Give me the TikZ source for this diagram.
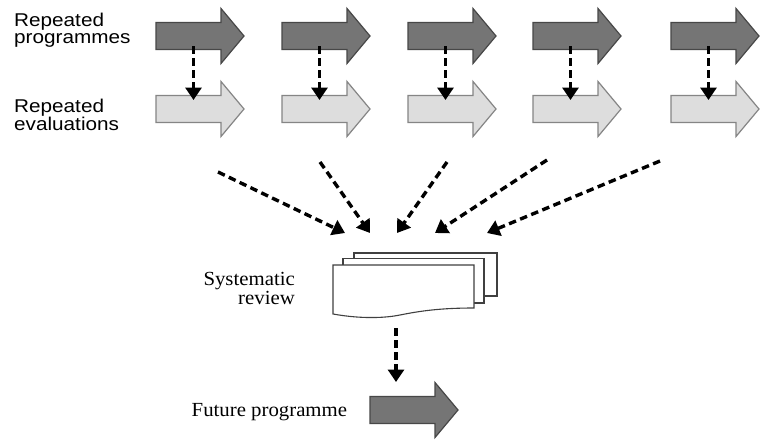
\documentclass[tikz,border=0pt]{standalone}
\usepackage{fontspec}
\usetikzlibrary{arrows.meta}
\newfontfamily\labsans[FakeStretch=1.12]{Liberation Sans}
\newfontfamily\labserif[FakeStretch=1.04]{Liberation Serif}
\definecolor{darkfill}{HTML}{757575}
\definecolor{darkline}{HTML}{474747}
\definecolor{lightfill}{HTML}{DDDDDD}
\definecolor{lightline}{HTML}{858585}
\definecolor{docline}{HTML}{404040}
\begin{document}
\begin{tikzpicture}[x=1pt,y=-1pt,
  darkarrow/.style={fill=darkfill,draw=darkline,line width=1.2pt},
  lightarrow/.style={fill=lightfill,draw=lightline,line width=1.2pt},
  doc/.style={fill=white,draw=docline,line width=1.1pt},
  flow/.style={draw=black,line width=3.4pt,dash pattern=on 7.5pt off 4.5pt,-{Triangle[width=16pt,length=12.5pt]}},
  sanslabel/.style={font=\labsans\fontsize{18.5}{17.2}\selectfont,align=left,inner sep=0pt,anchor=north west},
  seriflabel/.style={font=\labserif\fontsize{20}{15.8}\selectfont,inner sep=0pt},
  pics/bigarrow/.style={code={\path[#1] (0,-13.5) -- (65,-13.5) -- (65,-27.5) -- (88,0) -- (65,27.5) -- (65,13.5) -- (0,13.5) -- cycle;}}
]
\useasboundingbox (0,0) rectangle (760,439);
\fill[white] (0,0) rectangle (760,439);

% labels
\node[sanslabel] (lprog) at (14,13) {Repeated\\programmes};
\node[sanslabel] (leval) at (14,99) {Repeated\\evaluations};
\node[seriflabel,align=right,anchor=north east] (lrev) at (295,272) {Systematic\\review};
\node[seriflabel,anchor=base west] (lfut) at (191.5,416) {Future programme};

% repeated programmes and evaluations
\foreach \i/\x in {1/156,2/282,3/408,4/533,5/671} {
  \pic at (\x,36) {bigarrow=darkarrow};
  \pic at (\x,109) {bigarrow=lightarrow};
  \coordinate (s\i) at (\x+37.5,46);
  \coordinate (t\i) at (\x+37.5,100);
  \draw[flow] (s\i) -- (t\i);
}

% converging arrows
\coordinate (c1s) at (218,172); \coordinate (c1t) at (345,233);
\coordinate (c2s) at (320,162); \coordinate (c2t) at (370,233);
\coordinate (c3s) at (447,162); \coordinate (c3t) at (397,233);
\coordinate (c4s) at (547,160); \coordinate (c4t) at (435,233);
\coordinate (c5s) at (660,161); \coordinate (c5t) at (487,233);
\foreach \j in {1,...,5} { \draw[flow] (c\j s) -- (c\j t); }

% document stack
\draw[doc] (354,253) rectangle (497,296);
\draw[doc] (343,258.5) rectangle (484,303);
\draw[doc] (333,265) -- (474,265) -- (474,308)
  .. controls (440,308) and (420,311) .. (400,315)
  .. controls (380,319) and (355,318) .. (333,314) -- cycle;
\coordinate (rv) at (396,328);

% future programme
\pic at (370,410) {bigarrow=darkarrow};
\coordinate (fut) at (396,382);
\draw[flow] (rv) -- (fut);
\end{tikzpicture}
\end{document}
